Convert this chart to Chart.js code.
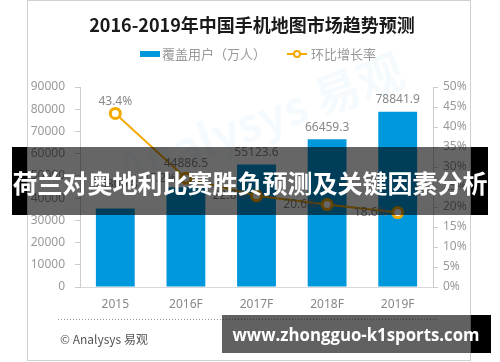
<!DOCTYPE html>
<html>
<head>
<meta charset="utf-8">
<script src="https://cdn.jsdelivr.net/npm/chart.js@4.4.1/dist/chart.umd.min.js"></script>
<style>
  html, body { margin: 0; padding: 0; background: #fff; }
  #wrap { width: 500px; height: 362px; position: relative; }
</style>
</head>
<body>
<div id="wrap"><canvas id="chart" width="500" height="362"></canvas></div>
<script>
// Dados do gráfico
const categories = ["2015", "2016F", "2017F", "2018F", "2019F"];
const users = [35300.8, 44886.5, 55123.6, 66459.3, 78841.9];
const growth = [43.4, 27.2, 22.8, 20.6, 18.6];

const chartTitle = "2016-2019年中国手机地图市场趋势预测";
const legendBar = "覆盖用户（万人）";
const legendLine = "环比增长率";
const sourceText = "© Analysys 易观";
const bannerText = "荷兰对奥地利比赛胜负预测及关键因素分析";
const urlText = "www.zhongguo-k1sports.com";

const BLUE = "#0098dc";
const ORANGE = "#f4a900";
const CJK = '"Noto Sans CJK SC", "Noto Sans", sans-serif';

// Moldura, título, legenda e rodapé
const framePlugin = {
  id: "frame",
  beforeDraw(chart) {
    const ctx = chart.ctx;
    ctx.save();
    ctx.strokeStyle = "#d0d0d0";
    ctx.lineWidth = 1;
    ctx.strokeRect(27.5, 0.5, 443, 360);

    // marca d'água
    ctx.translate(260, 120);
    ctx.rotate(-0.35);
    ctx.fillStyle = "rgba(0,150,220,0.045)";
    ctx.font = "bold 46px " + CJK;
    ctx.textAlign = "center";
    ctx.textBaseline = "middle";
    ctx.fillText("Analysys 易观", 0, 0);
    ctx.restore();

    ctx.save();
    ctx.fillStyle = "#1a1a1a";
    ctx.font = "bold 18px " + CJK;
    ctx.textAlign = "center";
    ctx.textBaseline = "middle";
    ctx.fillText(chartTitle, 252, 25);

    // legenda
    ctx.fillStyle = BLUE;
    ctx.fillRect(140, 51, 20, 6);
    ctx.fillStyle = "#999";
    ctx.font = "13px " + CJK;
    ctx.textAlign = "left";
    ctx.fillText(legendBar, 162, 54);
    ctx.strokeStyle = ORANGE;
    ctx.lineWidth = 2;
    ctx.beginPath();
    ctx.moveTo(287, 54);
    ctx.lineTo(307, 54);
    ctx.stroke();
    ctx.beginPath();
    ctx.arc(297, 54, 3, 0, Math.PI * 2);
    ctx.fillStyle = "#fff";
    ctx.fill();
    ctx.stroke();
    ctx.fillStyle = "#999";
    ctx.fillText(legendLine, 311, 54);

    // rodapé
    ctx.strokeStyle = "#999";
    ctx.lineWidth = 1;
    ctx.setLineDash([1, 2]);
    ctx.beginPath();
    ctx.moveTo(58, 319.5);
    ctx.lineTo(437, 319.5);
    ctx.stroke();
    ctx.setLineDash([]);
    ctx.fillStyle = "#555";
    ctx.font = "12px " + CJK;
    ctx.fillText(sourceText, 60, 339);
    ctx.restore();
  },
  afterDraw(chart) {
    const ctx = chart.ctx;
    ctx.save();
    ctx.font = "12px 'Noto Sans', sans-serif";
    ctx.textBaseline = "middle";

    // rótulos das barras
    const barMeta = chart.getDatasetMeta(1);
    const lift = [24, 24, 12, 12, 12];
    ctx.fillStyle = "#888";
    ctx.textAlign = "center";
    barMeta.data.forEach((bar, i) => {
      ctx.fillText(users[i].toFixed(1), bar.x, bar.y - lift[i]);
    });

    // rótulos da linha
    const lineMeta = chart.getDatasetMeta(0);
    lineMeta.data.forEach((pt, i) => {
      const txt = growth[i].toFixed(1) + "%";
      if (i === 0) {
        ctx.textAlign = "center";
        ctx.fillText(txt, pt.x, pt.y - 12);
      } else {
        ctx.textAlign = "right";
        ctx.fillText(txt, pt.x - 10, pt.y);
      }
    });

    // faixa escura com o título sobreposto
    ctx.fillStyle = "#000";
    ctx.fillRect(12, 147, 15, 68);
    ctx.fillRect(471, 147, 17, 68);
    ctx.fillStyle = "rgba(0,0,0,0.6)";
    ctx.fillRect(27, 147, 444, 68);
    ctx.fillStyle = "#fff";
    ctx.font = "bold 25px " + CJK;
    ctx.textAlign = "center";
    ctx.fillText(bannerText, 250, 183);

    // caixa do endereço
    ctx.fillStyle = "#000";
    ctx.fillRect(471, 315, 20, 38);
    ctx.fillStyle = "rgba(0,0,0,0.62)";
    ctx.fillRect(222, 315, 249, 38);
    ctx.fillStyle = "#fff";
    ctx.font = "bold 18px 'Open Sans', sans-serif";
    const w = ctx.measureText(urlText).width;
    ctx.save();
    ctx.translate(356, 336);
    ctx.scale(247 / w, 1);
    ctx.fillText(urlText, 0, 0);
    ctx.restore();
    ctx.restore();
  }
};

const tickFont = { family: "'Noto Sans', sans-serif", size: 12 };

new Chart(document.getElementById("chart"), {
  data: {
    labels: categories,
    datasets: [
      {
        type: "line",
        label: legendLine,
        data: growth,
        yAxisID: "y1",
        borderColor: ORANGE,
        borderWidth: 2,
        pointRadius: 5,
        pointBorderWidth: 3,
        pointBackgroundColor: "#fff",
        pointBorderColor: ORANGE,
        tension: 0,
        order: 0
      },
      {
        type: "bar",
        label: legendBar,
        data: users,
        yAxisID: "y",
        backgroundColor: BLUE,
        barPercentage: 0.55,
        categoryPercentage: 1,
        order: 1
      }
    ]
  },
  options: {
    responsive: false,
    animation: false,
    layout: { padding: { top: 87, bottom: 35, left: 0, right: 0 } },
    plugins: {
      legend: { display: false },
      title: { display: false },
      tooltip: { enabled: false }
    },
    scales: {
      x: {
        grid: { display: false, drawTicks: false },
        border: { color: "#d9d9d9" },
        ticks: { color: "#888", font: tickFont, padding: 10 },
        afterFit(scale) { scale.height = 40; }
      },
      y: {
        position: "left",
        min: 0,
        max: 90000,
        ticks: {
          stepSize: 10000,
          color: "#999",
          font: tickFont,
          padding: 10,
          callback: (v) => String(v)
        },
        grid: { drawOnChartArea: false, tickLength: 5, color: "#ccc" },
        border: { color: "#ccc" },
        afterFit(scale) { scale.width = 80; }
      },
      y1: {
        position: "right",
        min: 0,
        max: 50,
        ticks: {
          stepSize: 5,
          color: "#999",
          font: tickFont,
          padding: 5,
          callback: (v) => v + "%"
        },
        grid: { drawOnChartArea: false, tickLength: 5, color: "#ccc" },
        border: { color: "#ccc" },
        afterFit(scale) { scale.width = 67; }
      }
    }
  },
  plugins: [framePlugin]
});
</script>
</body>
</html>
